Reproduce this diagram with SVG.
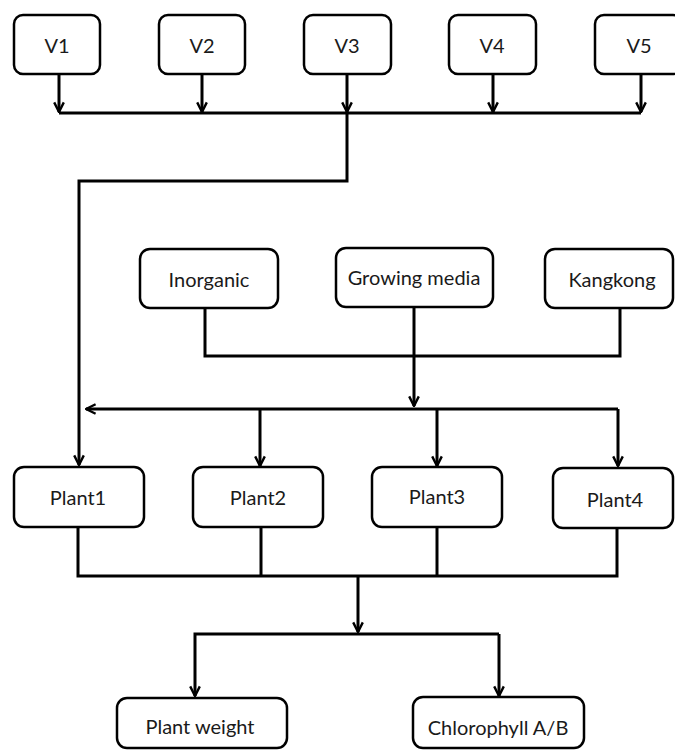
<svg xmlns="http://www.w3.org/2000/svg" width="675" height="751" viewBox="0 0 675 751">
<style>
.box{fill:#fff;stroke:#000;stroke-width:2.5}
.t{font-family:Lato,"Open Sans","Liberation Sans",sans-serif;font-size:20px;fill:#1a1a1a;text-anchor:middle;dominant-baseline:central}
.c{fill:none;stroke:#000;stroke-width:3;stroke-linejoin:miter}
</style>
<defs>
<marker id="arr" viewBox="0 0 10 10" refX="9" refY="5" markerWidth="12" markerHeight="12" markerUnits="userSpaceOnUse" orient="auto">
<path d="M1,1 L9,5 L1,9" fill="none" stroke="#000" stroke-width="2"/>
</marker>
</defs>
<rect width="675" height="751" fill="#fff"/>
<g id="connectors">
<path class="c" d="M59,75 V112" marker-end="url(#arr)"/>
<path class="c" d="M202,75 V112" marker-end="url(#arr)"/>
<path class="c" d="M347,75 V112" marker-end="url(#arr)"/>
<path class="c" d="M493,75 V112" marker-end="url(#arr)"/>
<path class="c" d="M641,75 V112" marker-end="url(#arr)"/>
<path class="c" d="M59,113 H641"/>
<path class="c" d="M347,113 V181 H79 V465" marker-end="url(#arr)"/>
<path class="c" d="M205,309 V356 H620 V309"/>
<path class="c" d="M414,308 V406" marker-end="url(#arr)"/>
<path class="c" d="M618,409 H86" marker-end="url(#arr)"/>
<path class="c" d="M618,409 V466" marker-end="url(#arr)"/>
<path class="c" d="M260,409 V466" marker-end="url(#arr)"/>
<path class="c" d="M437,409 V466" marker-end="url(#arr)"/>
<path class="c" d="M78,528 V576 H617 V528"/>
<path class="c" d="M261,528 V576"/>
<path class="c" d="M437,528 V576"/>
<path class="c" d="M358,576 V632" marker-end="url(#arr)"/>
<path class="c" d="M499,634 H195 V696" marker-end="url(#arr)"/>
<path class="c" d="M499,634 V696" marker-end="url(#arr)"/>
</g>
<g id="V1"><rect class="box" x="14" y="15" width="86" height="59" rx="9"/><text class="t" x="57" y="45">V1</text></g>
<g id="V2"><rect class="box" x="159" y="15" width="86" height="59" rx="9"/><text class="t" x="202" y="45">V2</text></g>
<g id="V3"><rect class="box" x="304" y="15" width="87" height="59" rx="9"/><text class="t" x="347" y="45">V3</text></g>
<g id="V4"><rect class="box" x="449" y="15" width="87" height="59" rx="9"/><text class="t" x="492" y="45">V4</text></g>
<g id="V5"><rect class="box" x="595" y="15" width="87" height="59" rx="9"/><text class="t" x="639" y="45">V5</text></g>
<g id="Inorganic"><rect class="box" x="140" y="249" width="138" height="59" rx="10"/><text class="t" x="209" y="279">Inorganic</text></g>
<g id="GrowingMedia"><rect class="box" x="336" y="248" width="157" height="59" rx="10"/><text class="t" x="414" y="277">Growing media</text></g>
<g id="Kangkong"><rect class="box" x="545" y="249" width="128" height="59" rx="10"/><text class="t" x="612" y="279">Kangkong</text></g>
<g id="Plant1"><rect class="box" x="14" y="467" width="130" height="60" rx="10"/><text class="t" x="78" y="497">Plant1</text></g>
<g id="Plant2"><rect class="box" x="193" y="467" width="130" height="60" rx="10"/><text class="t" x="258" y="497">Plant2</text></g>
<g id="Plant3"><rect class="box" x="372" y="467" width="130" height="60" rx="10"/><text class="t" x="437" y="496">Plant3</text></g>
<g id="Plant4"><rect class="box" x="553" y="468" width="120" height="60" rx="10"/><text class="t" x="615" y="499">Plant4</text></g>
<g id="PlantWeight"><rect class="box" x="117" y="698" width="170" height="50" rx="10"/><text class="t" x="200" y="726">Plant weight</text></g>
<g id="Chlorophyll"><rect class="box" x="413" y="697" width="171" height="51" rx="10"/><text class="t" x="498" y="727">Chlorophyll  A/B</text></g>
</svg>
